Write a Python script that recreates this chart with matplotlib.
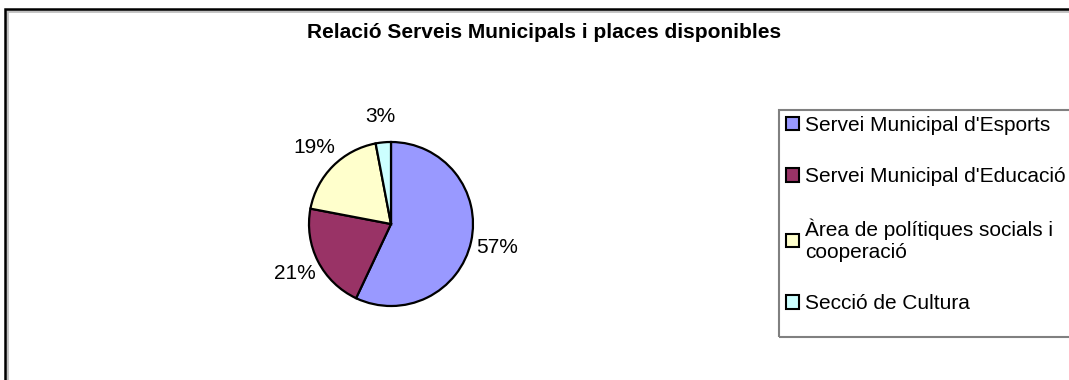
import matplotlib.pyplot as plt
from matplotlib.patches import Patch, Rectangle

plt.rcParams['font.family'] = ['Liberation Sans', 'DejaVu Sans']

title = "Relació Serveis Municipals i places disponibles"
categories = ["Servei Municipal d'Esports", "Servei Municipal d'Educació",
              "Àrea de polítiques socials i\ncooperació", "Secció de Cultura"]
shares = [57, 21, 19, 3]
colors = ["#9999FF", "#993366", "#FFFFCC", "#CCFFFF"]

W, H = 1069, 380
fig = plt.figure(figsize=(W / 100, H / 100), dpi=100)

# outer chart frame (right/bottom edges run off the picture)
fig.add_artist(Rectangle((7 / W, -0.1), 1.2, 1 - 11 / H + 0.1, transform=fig.transFigure,
                         fill=False, edgecolor="#c0c0c0", linewidth=2))
fig.add_artist(Rectangle((5 / W, -0.1), 1.2, 1 - 9 / H + 0.1, transform=fig.transFigure,
                         fill=False, edgecolor="black", linewidth=1.8))

fig.text(544 / W, 1 - 33 / H, title, ha="center", va="center",
         fontsize=15, fontweight="bold")

cx, cy, r = 391, 224, 82
ax = fig.add_axes([(cx - r) / W, (H - cy - r) / H, 2 * r / W, 2 * r / H])
ax.pie(shares, colors=colors, startangle=90, counterclock=False,
       autopct="%.0f%%", pctdistance=1.32,
       wedgeprops=dict(edgecolor="black", linewidth=1.6),
       textprops=dict(fontsize=15))
ax.set_xlim(-1, 1)
ax.set_ylim(-1, 1)
ax.set_aspect("equal")
ax.axis("off")

# legend frame
fig.add_artist(Rectangle((779 / W, 1 - 337 / H), 0.5, 227 / H, transform=fig.transFigure,
                         fill=False, edgecolor="#808080", linewidth=1.5))
handles = [Patch(facecolor=c, edgecolor="black", linewidth=1.5) for c in colors]
fig.legend(handles, categories, loc="upper left",
           bbox_to_anchor=(786 / W, 1 - 116 / H), frameon=False,
           fontsize=15, handlelength=0.62, handleheight=0.62,
           handletextpad=0.3, labelspacing=1.55, borderpad=0, borderaxespad=0)

fig.savefig("out.png", dpi=100)
